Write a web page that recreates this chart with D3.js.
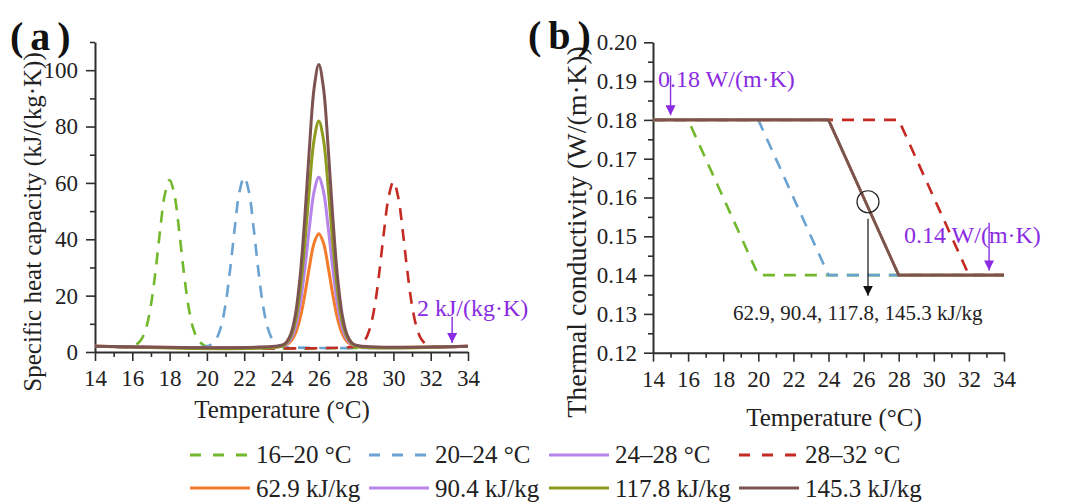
<!DOCTYPE html>
<html><head><meta charset="utf-8">
<script src="https://cdn.jsdelivr.net/npm/d3@7"></script>
<style>
html,body{margin:0;padding:0;background:#fff;}
svg, svg text{font-family:"Liberation Serif","Times New Roman",serif !important;}
</style></head>
<body><svg id="c" width="1074" height="502"></svg>
<script>
// ---------- data ----------
const xTicks = [14,16,18,20,22,24,26,28,30,32,34];
const cpTicks = [0,20,40,60,80,100];
const kTicks = [0.12,0.13,0.14,0.15,0.16,0.17,0.18,0.19,0.20];

// panel (a): specific heat capacity [T, cp]
const cp16_20 = [[14,2],[16,2],[16.25,2.8],[16.5,4.6],[16.75,8.7],[17,16.7],[17.25,29],[17.5,43.7],[17.75,56.1],[18,61],[18.25,56.1],[18.5,43.7],[18.75,29],[19,16.7],[19.25,8.7],[19.5,4.6],[19.75,2.8],[20,2],[34,2]];
const cp20_24 = [[14,2],[20,2],[20.25,2.8],[20.5,4.6],[20.75,8.8],[21,16.9],[21.25,29.5],[21.5,44.4],[21.75,57],[22,62],[22.25,57],[22.5,44.4],[22.75,29.5],[23,16.9],[23.25,8.8],[23.5,4.6],[23.75,2.8],[24,2],[34,2]];
const cp28_32 = [[14,2],[28,2],[28.25,2.8],[28.5,4.5],[28.75,8.6],[29,16.4],[29.25,28.6],[29.5,43],[29.75,55.2],[30,60.5],[30.25,55.2],[30.5,43],[30.75,28.6],[31,16.4],[31.25,8.6],[31.5,4.5],[31.75,2.8],[32,2],[34,2]];
const cp62_9 = [[14,2],[24,2],[24.25,2.6],[24.5,3.8],[24.75,6.6],[25,12],[25.25,20.3],[25.5,30.3],[25.75,38.7],[26,42],[26.25,38.7],[26.5,30.3],[26.75,20.3],[27,12],[27.25,6.6],[27.5,3.8],[27.75,2.6],[28,2],[34,2]];
const cp90_4 = [[14,2],[24,2],[24.25,2.8],[24.5,4.6],[24.75,8.8],[25,16.9],[25.25,29.5],[25.5,44.4],[25.75,57],[26,62],[26.25,57],[26.5,44.4],[26.75,29.5],[27,16.9],[27.25,8.8],[27.5,4.6],[27.75,2.8],[28,2],[34,2]];
const cp117_8 = [[14,2],[24,2],[24.25,3.1],[24.5,5.5],[24.75,11.1],[25,21.9],[25.25,38.6],[25.5,58.6],[25.75,75.4],[26,82],[26.25,75.4],[26.5,58.6],[26.75,38.6],[27,21.9],[27.25,11.1],[27.5,5.5],[27.75,3.1],[28,2],[34,2]];
const cp145_3 = [[14,2],[24,2.4],[24.25,3.4],[24.5,6.4],[24.75,13.4],[25,26.9],[25.25,47.8],[25.5,72.7],[25.75,93.7],[26,102],[26.25,93.7],[26.5,72.7],[26.75,47.8],[27,26.9],[27.25,13.4],[27.5,6.4],[27.75,3.4],[28,2.4],[34,2]];

// panel (b): thermal conductivity [T, k]
const k16_20 = [[14,0.18],[16,0.18],[20,0.14],[34,0.14]];
const k20_24 = [[14,0.18],[20,0.18],[24,0.14],[34,0.14]];
const k28_32 = [[14,0.18],[28,0.18],[32,0.14],[34,0.14]];
const k24_28 = [[14,0.18],[24,0.18],[28,0.14],[34,0.14]];

const legendRow1 = ["16–20 °C","20–24 °C","24–28 °C","28–32 °C"];
const legendRow2 = ["62.9 kJ/kg","90.4 kJ/kg","117.8 kJ/kg","145.3 kJ/kg"];

// ---------- styles ----------
const C = {green:"#72b82c", blue:"#6aa2d2", purple:"#b784ea", red:"#c42a22",
           orange:"#f47b2a", olive:"#8e9b1e", brown:"#7d5352", violet:"#8a2be2", axis:"#2e2e2e"};
const DASH = "12,9";
const FONT = '"Liberation Serif","Times New Roman",serif';
const TICKFS = 23;

const svg = d3.select("#c");

// ---------- scales ----------
const xA = d3.scaleLinear().domain([14,34]).range([95,468]);
const yA = d3.scaleLinear().domain([0,110]).range([352,42]);
const xB = d3.scaleLinear().domain([14,34]).range([653,1004]);
const yB = d3.scaleLinear().domain([0.12,0.20]).range([352.7,42.3]);

function styleText(s){
  s.attr("font-family",null).attr("font-size",null);
  s.selectAll("text").style("font-family",FONT).style("font-size",TICKFS+"px").attr("fill","#222");
}
function drawAxes(x, y, yMajor, yMinor, fmt, yPad){
  const g = svg.append("g");
  g.append("g").attr("transform",`translate(0,${y.range()[0]})`)
    .call(d3.axisBottom(x).tickValues(d3.range(15,34,2)).tickSize(5).tickFormat(""))
    .call(s=>s.select(".domain").remove());
  g.append("g").attr("transform",`translate(0,${y.range()[0]})`)
    .call(d3.axisBottom(x).tickValues(xTicks).tickSize(9).tickSizeOuter(0).tickPadding(9))
    .call(styleText);
  g.append("g").attr("transform",`translate(${x.range()[0]},0)`)
    .call(d3.axisLeft(y).tickValues(yMinor).tickSize(5).tickFormat(""))
    .call(s=>s.select(".domain").remove());
  g.append("g").attr("transform",`translate(${x.range()[0]},0)`)
    .call(d3.axisLeft(y).tickValues(yMajor).tickSize(9).tickSizeOuter(0).tickPadding(yPad).tickFormat(fmt))
    .call(styleText);
  g.selectAll(".domain").attr("stroke",C.axis).attr("stroke-width",2);
  g.selectAll(".tick line").attr("stroke",C.axis).attr("stroke-width",1.6);
}

// ---------- panel (a) ----------
drawAxes(xA, yA, cpTicks, [10,30,50,70,90,110], d3.format("d"), 8);
const lineA = d3.line().x(d=>xA(d[0])).y(d=>yA(d[1])).curve(d3.curveCatmullRom.alpha(0.5));
const seriesA = [
  {d:cp16_20, c:C.green, dash:true},
  {d:cp20_24, c:C.blue, dash:true},
  {d:cp28_32, c:C.red, dash:true},
  {d:cp62_9, c:C.orange},
  {d:cp90_4, c:C.purple},
  {d:cp117_8, c:C.olive},
  {d:cp145_3, c:C.brown}
];
svg.append("g").selectAll("path").data(seriesA).join("path")
  .attr("d",s=>lineA(s.d)).attr("fill","none").attr("stroke",s=>s.c)
  .attr("stroke-width",s=>s.dash?2.6:3).attr("stroke-dasharray",s=>s.dash?DASH:null)
  .attr("stroke-linejoin","round");

// ---------- panel (b) ----------
drawAxes(xB, yB, kTicks, d3.range(0.125,0.2,0.01), d3.format(".2f"), 7);
const lineB = d3.line().x(d=>xB(d[0])).y(d=>yB(d[1]));
const seriesB = [
  {d:k16_20, c:C.green, dash:true},
  {d:k20_24, c:C.blue, dash:true},
  {d:k28_32, c:C.red, dash:true},
  {d:k24_28, c:C.orange},
  {d:k24_28, c:C.purple},
  {d:k24_28, c:C.olive},
  {d:k24_28, c:C.brown}
];
svg.append("g").selectAll("path").data(seriesB).join("path")
  .attr("d",s=>lineB(s.d)).attr("fill","none").attr("stroke",s=>s.c)
  .attr("stroke-width",2.6).attr("stroke-dasharray",s=>s.dash?DASH:null);

// ---------- arrow markers ----------
const defs = svg.append("defs");
function marker(id,col){
  defs.append("marker").attr("id",id).attr("viewBox","0 0 10 10").attr("refX",10).attr("refY",5)
    .attr("markerWidth",10).attr("markerHeight",10).attr("markerUnits","userSpaceOnUse").attr("orient","auto")
    .append("path").attr("d","M0,0 L10,5 L0,10 Z").attr("fill",col);
}
marker("av",C.violet); marker("ak","#111");

function arrow(x1,y1,x2,y2,col,id,w){
  svg.append("line").attr("x1",x1).attr("y1",y1).attr("x2",x2).attr("y2",y2)
    .attr("stroke",col).attr("stroke-width",w).attr("marker-end",`url(#${id})`);
}
function txt(x,y,s,size,col,opts={}){
  const t = svg.append("text").attr("x",x).attr("y",y).style("font-size",size+"px").attr("fill",col)
    .style("font-family",FONT).text(s);
  if(opts.anchor) t.attr("text-anchor",opts.anchor);
  if(opts.weight) t.style("font-weight",opts.weight);
  if(opts.rot) t.attr("transform",`rotate(-90,${x},${y})`);
  if(opts.ls) t.style("letter-spacing",opts.ls+"px");
  return t;
}

// annotations (a)
txt(417,316,"2 kJ/(kg·K)",24,C.violet);
arrow(xA(33.15),yA(12.5),xA(33.15),yA(3.2),C.violet,"av",1.4);

// annotations (b)
txt(658,87,"0.18 W/(m·K)",24,C.violet);
arrow(xB(15),yB(0.1915),xB(15),yB(0.1812),C.violet,"av",1.4);
txt(904,243,"0.14 W/(m·K)",24,C.violet);
arrow(xB(33.15),yB(0.1535),xB(33.15),yB(0.1412),C.violet,"av",1.4);
svg.append("circle").attr("cx",xB(26.25)).attr("cy",yB(0.1589)).attr("r",11)
  .attr("fill","none").attr("stroke","#222").attr("stroke-width",1.2);
arrow(xB(26.25),yB(0.1545),xB(26.25),yB(0.1347),"#111","ak",1.2);
txt(733,320,"62.9, 90.4, 117.8, 145.3 kJ/kg",21,"#222");

// axis titles
txt(41,222,"Specific heat capacity (kJ/(kg·K))",25,"#222",{anchor:"middle",rot:true});
txt(282,418,"Temperature (°C)",25,"#222",{anchor:"middle"});
txt(586,232,"Thermal conductivity (W/(m·K))",28,"#222",{anchor:"middle",rot:true});
txt(834,426,"Temperature (°C)",25,"#222",{anchor:"middle"});

// panel labels
txt(10,50,"(a)",40,"#111",{weight:"bold",ls:7});
txt(528,49,"(b)",40,"#111",{weight:"bold",ls:7});

// ---------- legend ----------
const legX = [190,369,549,739];
const leg1 = [{c:C.green,dash:true},{c:C.blue,dash:true},{c:C.purple},{c:C.red,dash:true}];
const leg2 = [{c:C.orange},{c:C.purple},{c:C.olive},{c:C.brown}];
function legendRow(items, labels, yLine, yText){
  items.forEach((it,i)=>{
    svg.append("line").attr("x1",legX[i]).attr("x2",legX[i]+60).attr("y1",yLine).attr("y2",yLine)
      .attr("stroke",it.c).attr("stroke-width",2.8).attr("stroke-dasharray",it.dash?"11,12":null);
    txt(legX[i]+66,yText,labels[i],25,"#222");
  });
}
legendRow(leg1, legendRow1, 455, 463);
legendRow(leg2, legendRow2, 488, 497);
</script></body></html>
